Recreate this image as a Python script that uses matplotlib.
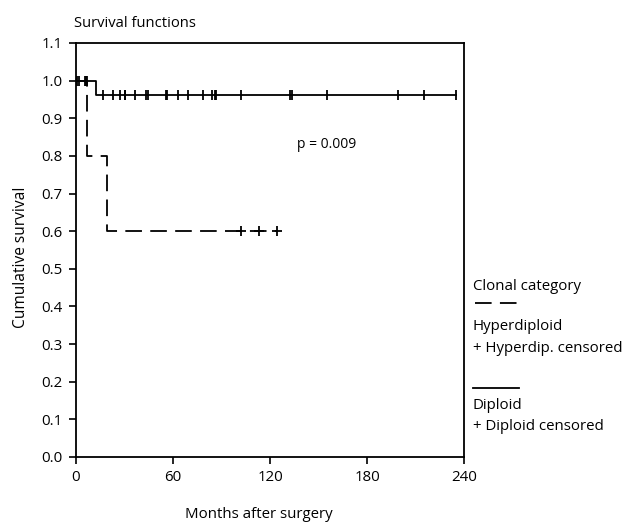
import numpy as np
import matplotlib.pyplot as plt
from matplotlib.lines import Line2D

plt.rcParams['font.family'] = ['Open Sans', 'DejaVu Sans']

########## data (months after surgery) ##########
dip_events = [12.4]
dip_surv = [1.0, 0.963]
dip_end = 234.8
dip_censored = [0.5, 1.8, 5.3, 6.3, 6.9,
                16.9, 22.7, 27.2, 30.0, 30.6, 36.5, 43.3, 44.7, 55.8, 56.4,
                63.3, 69.1, 78.7, 83.9, 85.7, 86.3, 101.9, 132.3, 133.8,
                155.0, 199.3, 215.4, 234.8]

hyp_events = [7.0, 19.4]
hyp_surv = [1.0, 0.8, 0.6]
hyp_end = 124.1
hyp_censored = [101.9, 113.2, 124.1]

x_ticks = [0, 60, 120, 180, 240]
y_ticks = np.arange(0, 12) / 10

W, H = 625, 522
def px(x, y):
    return x / W, 1 - y / H

########## figure ##########
fig = plt.figure(figsize=(W / 100, H / 100), dpi=100)
ax = fig.add_axes([76 / W, (H - 457) / H, (464 - 76) / W, (457 - 43) / H])

DASH = (9.2, 4.6)
LW = 1.3

def km_line(events, surv, end, censored, marker, **kw):
    t = [0] + list(events) + [end]
    s = list(surv) + [surv[-1]]
    ax.step(t, s, where='post', color='black', lw=LW, **kw)
    lev = [surv[np.searchsorted(events, c, side='right')] for c in censored]
    ax.plot(censored, lev, ls='none', marker=marker, ms=7.8, mew=1.3,
            color='black', clip_on=False)

km_line(dip_events, dip_surv, dip_end, dip_censored, '|')
km_line(hyp_events, hyp_surv, hyp_end, hyp_censored, '+', dashes=DASH)

ax.set_xlim(0, 240)
ax.set_ylim(0, 1.1)
ax.set_xticks(x_ticks)
ax.set_yticks(y_ticks)
ax.set_yticklabels(['%.1f' % v for v in y_ticks])
ax.tick_params(direction='out', length=5, width=1.2, labelsize=10.8, pad=4.5, color='black')
for sp in ax.spines.values():
    sp.set_linewidth(1.3)

ax.text(136.5, 0.829, 'p = 0.009', fontsize=10, va='center', ha='left')

########## labels ##########
fig.text(*px(74, 27.3), 'Survival functions', fontsize=10.6, va='baseline', ha='left')
fig.text(*px(185, 518), 'Months after surgery', fontsize=10.8, va='baseline', ha='left')
fig.text(*px(25, 328), 'Cumulative survival', fontsize=11.2, rotation=90,
         rotation_mode='anchor', ha='left', va='baseline')

########## legend ##########
fig.text(*px(473, 290.5), 'Clonal category', fontsize=10.8, va='baseline')
x0, y0 = px(475, 303)
x1, _ = px(518, 303)
fig.add_artist(Line2D([x0, x1], [y0, y0], transform=fig.transFigure,
                      color='black', lw=LW, dashes=DASH))
fig.text(*px(473, 330.5), 'Hyperdiploid', fontsize=10.8, va='baseline')
fig.text(*px(473, 352.5), '+ Hyperdip. censored', fontsize=10.8, va='baseline')
x0, y0 = px(473, 388)
x1, _ = px(519, 388)
fig.add_artist(Line2D([x0, x1], [y0, y0], transform=fig.transFigure,
                      color='black', lw=LW))
fig.text(*px(473, 409.3), 'Diploid', fontsize=10.8, va='baseline')
fig.text(*px(473, 430.5), '+ Diploid censored', fontsize=10.8, va='baseline')

fig.savefig('out.png', dpi=100)
